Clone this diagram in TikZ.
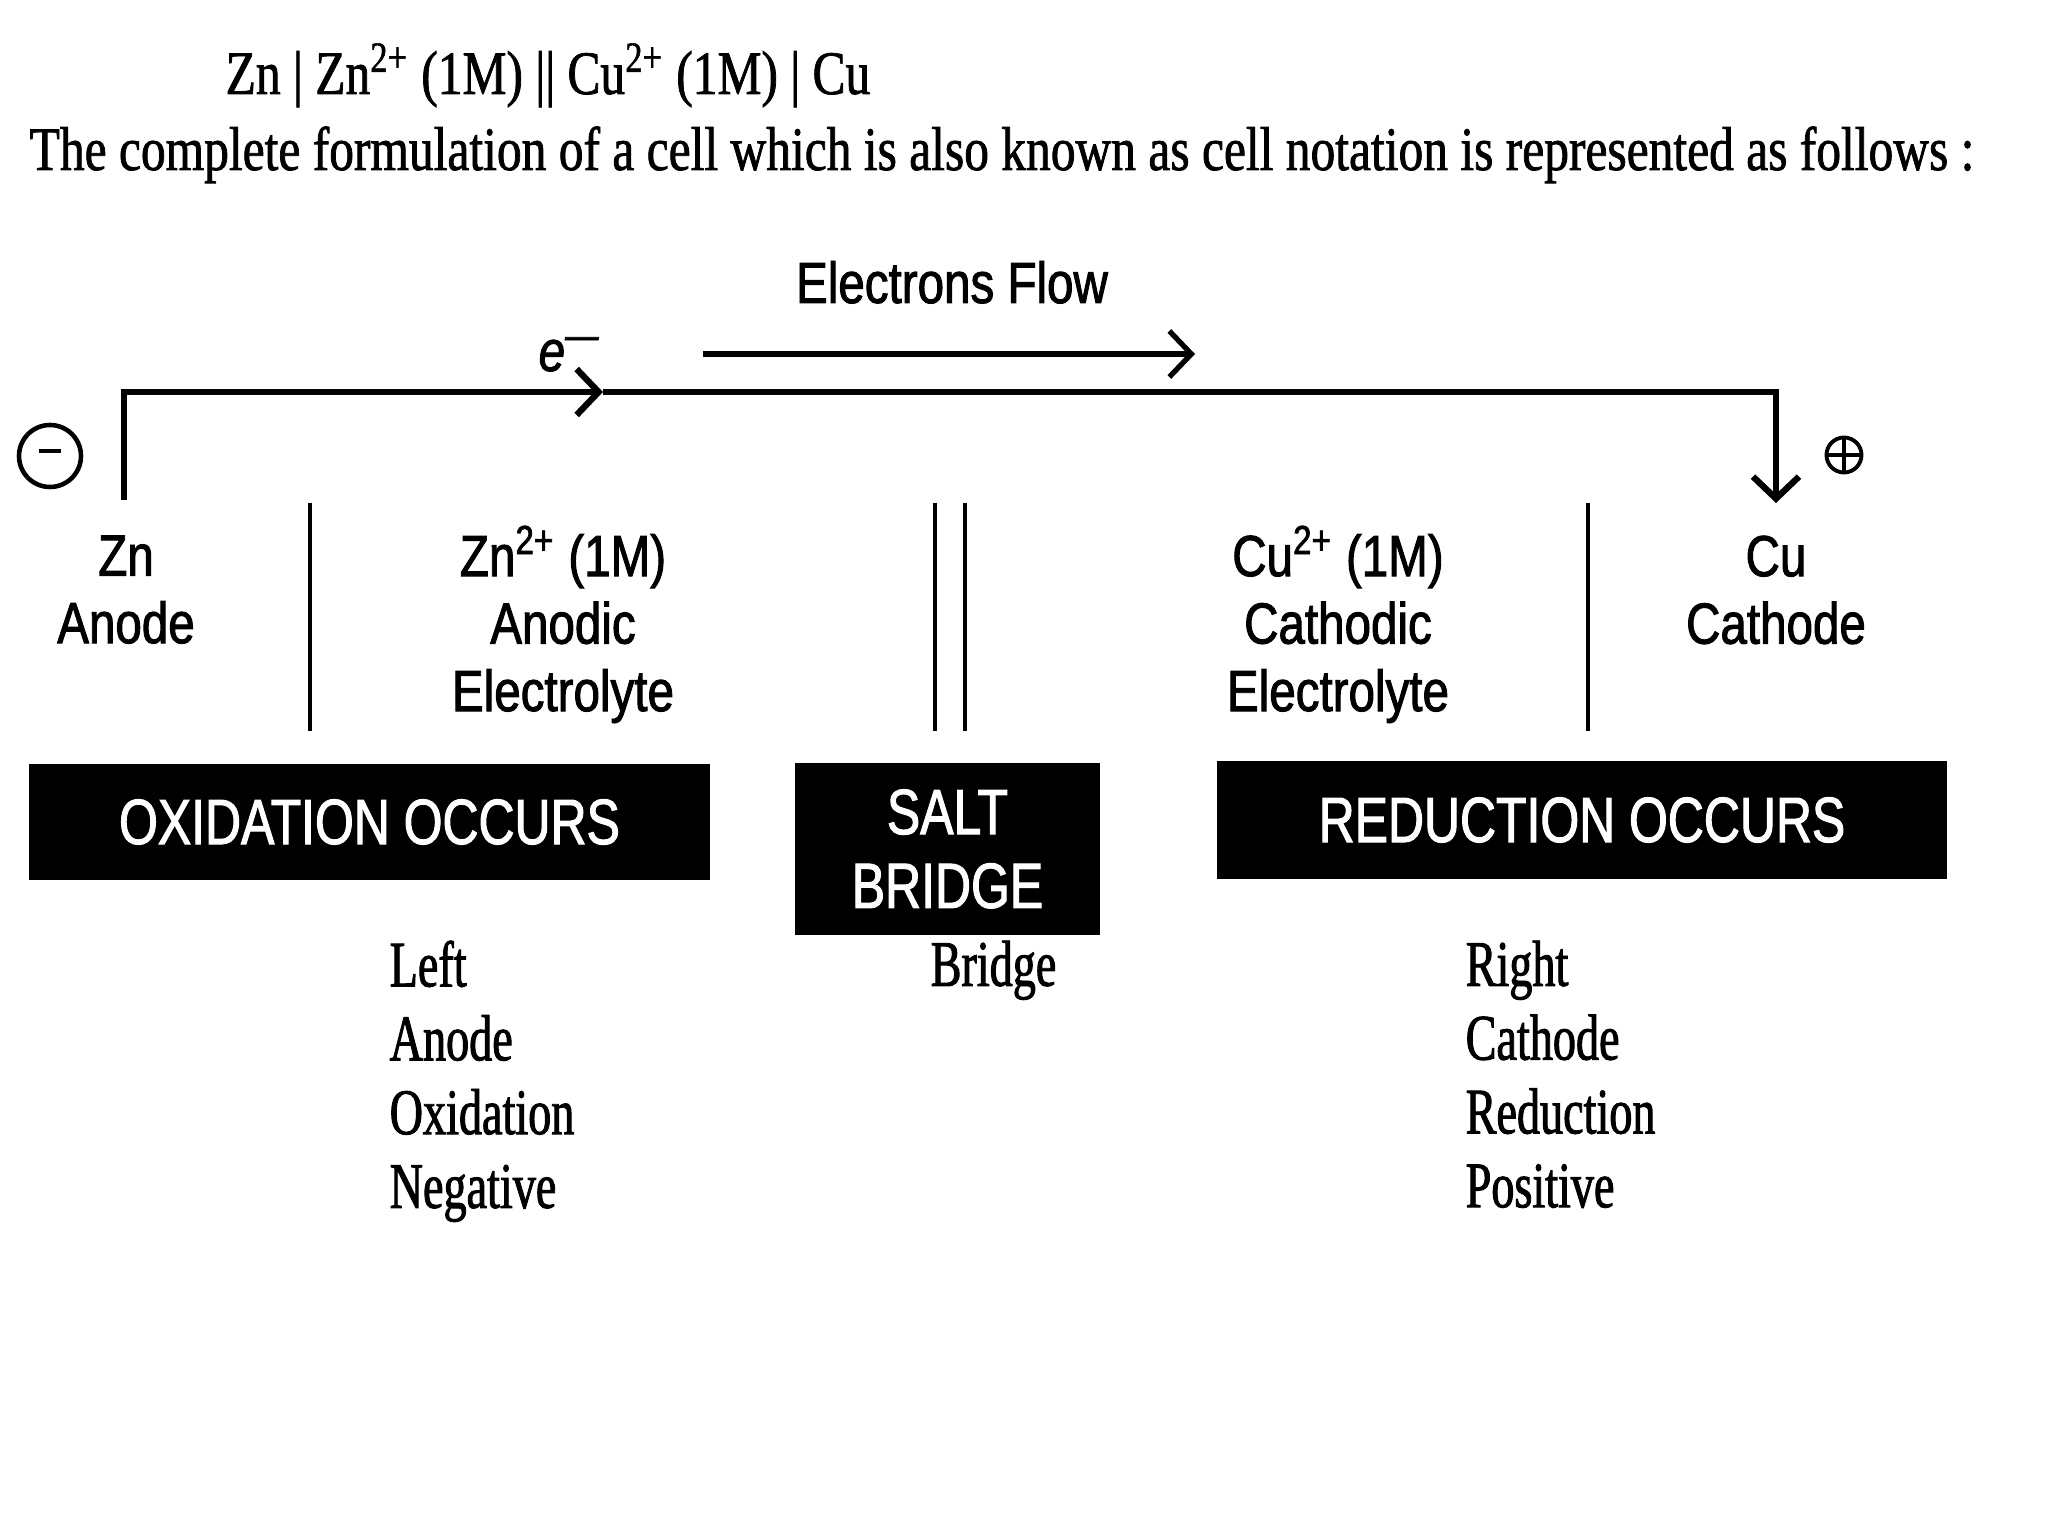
\documentclass[tikz,border=0pt]{standalone}
\usepackage{fontspec}
\setmainfont[FakeStretch=0.80, FakeBold=1.2]{Liberation Serif}
\newfontfamily\labelfont[FakeStretch=0.82, FakeBold=1.6]{Liberation Sans}
\newfontfamily\boxfont[FakeStretch=0.78, FakeBold=1.6]{Liberation Sans}
\newfontfamily\listfont[FakeStretch=0.71, FakeBold=1.4]{Liberation Serif}
\usetikzlibrary{arrows.meta, positioning}

\begin{document}
\begin{tikzpicture}[
  headline/.style={anchor=base west, inner sep=0pt, font=\fontsize{17.6}{21}\selectfont},
  partlabel/.style={align=center, inner sep=0pt, anchor=north, font=\labelfont\fontsize{16.5}{19.2}\selectfont},
  blackbox/.style={fill=black, text=white, inner sep=0pt, align=center, font=\boxfont\fontsize{18.2}{21}\selectfont},
  sidelist/.style={align=left, anchor=north west, inner sep=0pt, font=\listfont\fontsize{18.5}{21}\selectfont},
  pole/.style={draw, circle, inner sep=0pt, line width=1.3pt},
  wire/.style={line width=1.8pt},
  divider/.style={line width=1.2pt},
  arrow/.style={-{Straight Barb[length=2.2mm, width=4.6mm]}}
]
\useasboundingbox (0,0) rectangle (20.48,-15.36);

\node[headline] (notation) at (2.25,-0.94) {Zn | Zn\textsuperscript{2+} (1M) || Cu\textsuperscript{2+} (1M) | Cu};
\node[headline] (intro) at (0.29,-1.70) {The complete formulation of a cell which is also known as cell notation is represented as follows :};

\node[partlabel, anchor=base] (flowlabel) at (9.52,-3.03) {Electrons Flow};
\node[partlabel, anchor=base west] (elabel) at (5.38,-3.71) {\itshape e\textsuperscript{\textemdash}};
\coordinate (flowstart) at (7.03,-3.54);
\coordinate (flowend) at (11.95,-3.54);
\draw[arrow, line width=1.5pt] (flowstart) -- (flowend);

\coordinate (anodetop) at (1.24,-5.00);
\coordinate (emark) at (6.03,-3.92);
\coordinate (cathodetop) at (17.76,-5.03);
\draw[wire, arrow] (anodetop) |- (emark);
\draw[wire, arrow] (emark) -| (cathodetop);

\node[pole, minimum size=0.62cm] (negpole) at (0.50,-4.56) {\labelfont\fontsize{13}{13}\selectfont\textendash};
\node[pole, minimum size=0.35cm, line width=1.1pt] (pospole) at (18.44,-4.55) {};
\draw[line width=1.1pt] (pospole.north) -- (pospole.south) (pospole.west) -- (pospole.east);

\foreach \x in {3.10, 9.35, 9.65, 15.88}
  \draw[divider] (\x,-5.03) -- (\x,-7.31);

\node[partlabel] (zn) at (1.26,-5.35) {Zn\\Anode};
\node[partlabel] (znsol) at (5.63,-5.25) {Zn\textsuperscript{2+} (1M)\\Anodic\\Electrolyte};
\node[partlabel] (cusol) at (13.38,-5.25) {Cu\textsuperscript{2+} (1M)\\Cathodic\\Electrolyte};
\node[partlabel] (cu) at (17.76,-5.35) {Cu\\Cathode};

\node[blackbox, minimum width=6.81cm, minimum height=1.16cm] (oxbox) at (3.695,-8.22) {OXIDATION OCCURS};
\node[blackbox, minimum width=3.05cm, minimum height=1.72cm] (saltbox) at (9.475,-8.49) {SALT\\BRIDGE};
\node[blackbox, minimum width=7.30cm, minimum height=1.18cm] (redbox) at (15.82,-8.20) {REDUCTION OCCURS};

\node[sidelist] (leftlist) at (3.89,-9.40) {Left\\Anode\\Oxidation\\Negative};
\node[sidelist] (bridgeword) at (9.30,-9.40) {Bridge};
\node[sidelist] (rightlist) at (14.65,-9.40) {Right\\Cathode\\Reduction\\Positive};
\end{tikzpicture}
\end{document}
